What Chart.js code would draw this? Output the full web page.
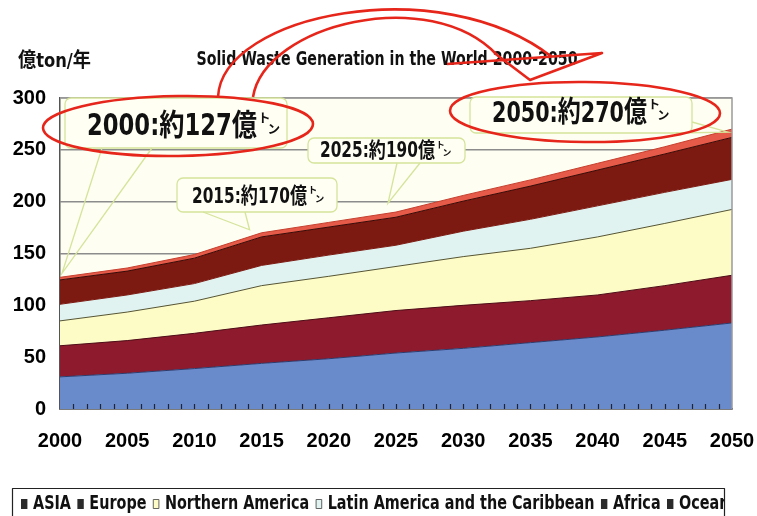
<!DOCTYPE html>
<html>
<head>
<meta charset="utf-8">
<title>Solid Waste Generation in the World 2000-2050</title>
<script src="https://cdn.jsdelivr.net/npm/chart.js@4.4.1/dist/chart.umd.min.js"></script>
<style>
  html, body { margin: 0; padding: 0; background: #fff; }
  canvas { display: block; }
</style>
</head>
<body>
<canvas id="wasteChart" width="757" height="516"></canvas>
<script>
// Waste generation by region, 億ton/年
const years = [2000, 2005, 2010, 2015, 2020, 2025, 2030, 2035, 2040, 2045, 2050];
const seriesNames = ["ASIA", "Europe", "Northern America", "Latin America and the Caribbean", "Africa", "Oceania"];
const asia     = [31, 34.5, 39, 44, 48.5, 54, 58.5, 64, 69.5, 76, 83];
const europe   = [30, 31.5, 34, 37, 39.5, 41, 41.5, 40.5, 40.5, 43, 46];
const nAmerica = [24, 27.5, 31, 38, 40, 42.5, 47, 50.5, 56, 60, 63.5];
const latinAm  = [16, 16.5, 17, 19.5, 20.5, 20.5, 24.5, 28, 30, 30, 29];
const africa   = [23.5, 23, 24.5, 27.5, 27, 27, 29, 32, 34.5, 37, 40.5];
const oceania  = [2.5, 3, 3.5, 4, 4.5, 5, 5.5, 6, 6.5, 7, 8];
const calloutYears = [2000, 2015, 2025, 2050];
const titleText = "Solid Waste Generation in the World 2000-2050";
const unitText = "億ton/年";

const seriesData = [asia, europe, nAmerica, latinAm, africa, oceania];
const fills = ["#6a8bcb", "#8e1b2d", "#fdfbc6", "#e0f3f1", "#7c1a12", "#e55a48"];
const edges = ["#2c3b6e", "#4d0c16", "#555535", "#7c1a12", "#3a0905", "#c6402f"];
const legendMarks = ["#2a2a2a", "#2a2a2a", "#fdfbc6", "#e0f3f1", "#2a2a2a", "#2a2a2a"];

const NARROW = '"DejaVu Sans Condensed", "Noto Sans CJK JP", sans-serif';
const TICKFONT = '"Liberation Sans", Arial, sans-serif';

// callout boxes: box rect, text slot, pointer base points, tip nudge
const calloutLayout = {
  2000: { box: [65, 98, 222, 50], tx: 87, ty: 127, tw: 170, size: 30, bases: [[102, 148], [152, 148]], tip: [2, -4] },
  2015: { box: [177, 178, 160, 34], tx: 192, ty: 197, tw: 115, size: 22, bases: [[203, 212], [245, 212]], tip: [-12, -3] },
  2025: { box: [308, 138, 157, 25], tx: 320, ty: 152, tw: 115, size: 21, bases: [[397, 163], [420, 163]], tip: [-8, -9] },
  2050: { box: [470, 97, 222, 36], tx: 492, ty: 114, tw: 155, size: 29, bases: [[676, 133], [692, 122]], tip: [-4, 3] }
};

function totalAt(year) {
  const j = years.indexOf(year);
  return Math.round(seriesData.reduce((s, arr) => s + arr[j], 0));
}

function fitText(ctx, str, x, y, w, font, align) {
  ctx.save();
  ctx.font = font;
  const m = ctx.measureText(str).width;
  const sx = w / m;
  ctx.textAlign = "left";
  let x0 = x;
  if (align === "center") x0 = x - w / 2;
  ctx.translate(x0, y);
  ctx.scale(sx, 1);
  ctx.fillText(str, 0, 0);
  ctx.restore();
}

function roundRect(ctx, x, y, w, h, r) {
  ctx.beginPath();
  ctx.moveTo(x + r, y);
  ctx.arcTo(x + w, y, x + w, y + h, r);
  ctx.arcTo(x + w, y + h, x, y + h, r);
  ctx.arcTo(x, y + h, x, y, r);
  ctx.arcTo(x, y, x + w, y, r);
  ctx.closePath();
}

const decor = {
  id: "decor",
  beforeDraw(chart) {
    const { ctx, chartArea: a } = chart;
    ctx.save();
    ctx.fillStyle = "#ffffff";
    ctx.fillRect(0, 0, chart.width, chart.height);
    ctx.fillStyle = "#fefef3";
    ctx.fillRect(a.left, a.top, a.right - a.left, a.bottom - a.top);
    ctx.restore();
  },
  afterDatasetsDraw(chart) {
    const { ctx, chartArea: a, scales: { x } } = chart;
    ctx.save();
    // frame on the right and top
    ctx.strokeStyle = "#9a9a9a";
    ctx.lineWidth = 1.5;
    ctx.beginPath();
    ctx.moveTo(a.left, a.top);
    ctx.lineTo(a.right, a.top);
    ctx.lineTo(a.right, a.bottom);
    ctx.stroke();
    // yearly tick marks pointing into the plot
    ctx.strokeStyle = "#1d2438";
    ctx.lineWidth = 1.2;
    for (let yr = 2001; yr < 2050; yr++) {
      const px = Math.round(x.getPixelForValue(yr)) + 0.5;
      ctx.beginPath();
      ctx.moveTo(px, a.bottom);
      ctx.lineTo(px, a.bottom - 5);
      ctx.stroke();
    }
    ctx.restore();
  },
  afterDraw(chart) {
    const { ctx, scales: { x, y } } = chart;
    ctx.save();
    ctx.fillStyle = "#111";
    ctx.textBaseline = "middle";
    fitText(ctx, titleText, 387, 60, 381, "bold 20px " + NARROW, "center");
    fitText(ctx, unitText, 18, 62, 73, "bold 20px " + NARROW, "left");

    // callouts
    calloutYears.forEach(yr => {
      const L = calloutLayout[yr];
      const total = totalAt(yr);
      const tipX = x.getPixelForValue(yr) + L.tip[0];
      const tipY = y.getPixelForValue(total) + L.tip[1];
      ctx.strokeStyle = "#d5e49a";
      ctx.lineWidth = 1.3;
      ctx.fillStyle = "#fffff4";
      const [bx, by, bw, bh] = L.box;
      roundRect(ctx, bx, by, bw, bh, 6);
      ctx.fill();
      ctx.stroke();
      ctx.beginPath();
      ctx.moveTo(L.bases[0][0], L.bases[0][1]);
      ctx.lineTo(tipX, tipY);
      ctx.lineTo(L.bases[1][0], L.bases[1][1]);
      ctx.stroke();
      ctx.fillStyle = "#111";
      const main = yr + ":約" + total + "億";
      fitText(ctx, main, L.tx, L.ty, L.tw, "bold " + L.size + "px " + NARROW, "left");
      const s = L.size * 0.42;
      ctx.font = "bold " + s + "px " + NARROW;
      ctx.textAlign = "left";
      const ex = L.tx + L.tw + 1;
      ctx.fillText("ト", ex, L.ty - L.size * 0.28);
      ctx.fillText("ン", ex + s * 0.75, L.ty + L.size * 0.1);
    });

    // hand-drawn red marks
    ctx.strokeStyle = "#e6261b";
    ctx.lineWidth = 2.6;
    ctx.lineJoin = "round";
    ctx.beginPath();
    ctx.ellipse(178, 126, 135, 30, -0.015, 0, Math.PI * 2);
    ctx.stroke();
    ctx.beginPath();
    ctx.ellipse(585, 112, 135, 30, 0.01, 0, Math.PI * 2);
    ctx.stroke();
    ctx.beginPath();
    ctx.moveTo(218, 97);
    ctx.bezierCurveTo(222, 14, 440, -30, 552, 57);
    ctx.moveTo(253, 97);
    ctx.bezierCurveTo(265, 24, 430, -16, 497, 55);
    ctx.moveTo(447, 64);
    ctx.lineTo(602, 53);
    ctx.lineTo(530, 80);
    ctx.lineTo(497, 55);
    ctx.stroke();

    // legend strip
    ctx.strokeStyle = "#222";
    ctx.lineWidth = 1.2;
    ctx.beginPath();
    ctx.moveTo(12.5, 516);
    ctx.lineTo(12.5, 488.5);
    ctx.lineTo(724.5, 488.5);
    ctx.lineTo(724.5, 516);
    ctx.stroke();
    ctx.save();
    ctx.beginPath();
    ctx.rect(13, 489, 711, 30);
    ctx.clip();
    ctx.font = "bold 20px " + NARROW;
    const gap = 8, markW = 8, markGap = 7;
    const offs = [];
    let pos = 0;
    seriesNames.forEach(n => {
      offs.push(pos);
      pos += markW + markGap + ctx.measureText(n).width + gap;
    });
    const scaleX = (667 - 21) / offs[5];
    ctx.translate(21, 503);
    ctx.scale(scaleX, 1);
    seriesNames.forEach((n, i) => {
      ctx.fillStyle = legendMarks[i];
      ctx.fillRect(offs[i], -4, markW, 10);
      if (i === 2 || i === 3) {
        ctx.strokeStyle = "#555";
        ctx.lineWidth = 1;
        ctx.strokeRect(offs[i] + 0.5, -3.5, markW - 1, 9);
      }
      ctx.fillStyle = "#111";
      ctx.textBaseline = "middle";
      ctx.fillText(n, offs[i] + markW + markGap, 1);
    });
    ctx.restore();
    ctx.restore();
  }
};

const datasets = seriesNames.map((name, i) => ({
  label: name,
  data: seriesData[i].map((v, j) => ({ x: years[j], y: v })),
  backgroundColor: fills[i],
  borderColor: edges[i],
  borderWidth: 1,
  pointRadius: 0,
  tension: 0,
  fill: i === 0 ? "origin" : "-1"
}));

new Chart(document.getElementById("wasteChart"), {
  type: "line",
  data: { datasets },
  options: {
    responsive: false,
    animation: false,
    devicePixelRatio: 1,
    layout: { padding: { left: 0, right: 25, top: 98, bottom: 62 } },
    plugins: { legend: { display: false }, title: { display: false }, tooltip: { enabled: false } },
    scales: {
      x: {
        type: "linear", min: 2000, max: 2050,
        grid: { display: false },
        border: { color: "#333", width: 1.5 },
        ticks: {
          stepSize: 1, autoSkip: false, maxRotation: 0, padding: 12, color: "#000",
          font: { family: TICKFONT, size: 20, weight: "bold" },
          callback: v => (v % 5 === 0 ? String(v) : "")
        },
        afterFit: s => { s.height = 45; s.paddingLeft = 0; s.paddingRight = 0; }
      },
      y: {
        stacked: true, min: 0, max: 300,
        grid: { color: "#8c8c8c", lineWidth: 1.5, drawTicks: false },
        border: { color: "#555", width: 1.5 },
        ticks: {
          stepSize: 50, padding: 14, color: "#000",
          font: { family: TICKFONT, size: 20, weight: "bold" }
        },
        afterFit: s => { s.width = 60; s.paddingTop = 0; s.paddingBottom = 0; }
      }
    }
  },
  plugins: [decor]
});
</script>
</body>
</html>
